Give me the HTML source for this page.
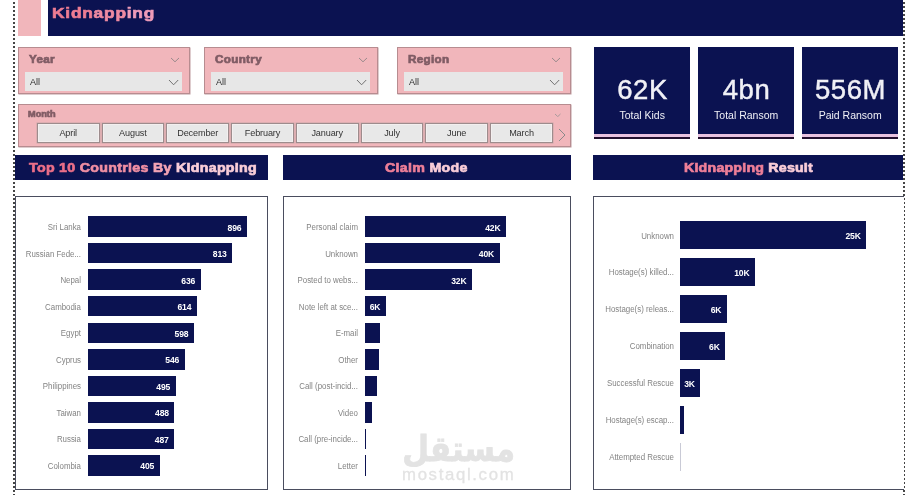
<!DOCTYPE html><html lang="en"><head><meta charset="utf-8"><title>Kidnapping</title><style>
*{margin:0;padding:0;box-sizing:border-box}
html,body{width:915px;height:495px;overflow:hidden;background:#fff}
body{position:relative;font-family:"Liberation Sans",sans-serif;}
.abs{position:absolute}
.navy{background:#0b1251}
.dot{position:absolute;top:0;width:2px;height:495px;background:repeating-linear-gradient(to bottom,#fff 0 2px,#454545 2px 4px)}
.blk{font-weight:bold;-webkit-text-stroke:0.65px currentColor;white-space:nowrap;display:inline-block;transform:scaleX(1.12);transform-origin:0 50%}
.slicer{position:absolute;background:#f1b6bb;border:1px solid #b78c90;box-shadow:.5px .5px 0 0 #bd999d}
.slicer .h{position:absolute;left:9.7px;top:6.4px;font-size:10.4px;line-height:12px;color:#805c65;letter-spacing:.3px}
.slicer .inp{position:absolute;left:5.7px;top:24px;height:19px;background:#e7e7e7;}
.slicer .inp span{position:absolute;left:5.2px;top:5.3px;font-size:9px;line-height:11px;color:#2e2e2e}
.btn{position:absolute;top:18.5px;height:19.4px;width:62.8px;letter-spacing:-.12px;background:#e8e8e8;border:1px solid #9d8c8d;box-shadow:inset 0 0 0 1px #f4efef,0 0 0 .5px #c9a5a8;font-size:9.1px;line-height:18.2px;text-align:center;color:#333}
.card{position:absolute;top:47px;height:87px;background:#0b1251;color:#f0f0f6;text-align:center}
.card .v{position:absolute;left:0;right:0;top:26.6px;font-size:27.5px;line-height:32px;letter-spacing:.6px;text-indent:.6px;-webkit-text-stroke:.45px #f0f0f6}
.card .l{position:absolute;left:0;right:0;top:62.2px;font-size:10.5px;line-height:12px}
.card .p{position:absolute;left:0;right:0;top:87px;height:3px;background:#e9c3e0}
.card .d{position:absolute;left:0;right:0;top:90px;height:1.5px;background:#23102e}
.hd{position:absolute;top:155.4px;height:24.4px;background:#0b1251;}
.hd div{position:absolute;top:5.8px;font-size:12.7px;line-height:15px;letter-spacing:.26px}
.box{position:absolute;top:196.3px;height:293.4px;border:1px solid #4a4d5e;background:#fff}
.bar{position:absolute;background:#0b1251}
.cl{position:absolute;font-size:8.3px;line-height:11px;color:#838383;text-align:right;white-space:nowrap;transform:scaleX(.95);transform-origin:100% 50%}
.dv{position:absolute;font-size:8.6px;line-height:11px;color:#fff;text-align:right;white-space:nowrap;font-weight:bold;letter-spacing:-.15px}
</style></head><body><div class="abs" style="left:0;top:0;width:915px;height:495px;will-change:transform">
<div class="dot" style="left:13px"></div><div class="dot" style="left:903px"></div>
<div class="abs" style="left:18px;top:0;width:23.3px;height:35.7px;background:#f1b6bb"></div>
<div class="abs navy" style="left:48px;top:0;width:855px;height:36.3px"></div>
<div class="abs blk" style="left:52.2px;top:3.4px;font-size:15.5px;line-height:20px;letter-spacing:.68px;color:#ee7d93">Kidn<span style="color:#ee8aa2">app</span><span style="color:#ee9bb9">ing</span></div>
<div class="slicer" style="left:18px;top:47px;width:171.6px;height:46.5px"><div class="h blk">Year</div>
<svg class="abs" style="left:151.2px;top:9.4px" width="10" height="5.8" viewBox="-1 -1 10 5.8"><polyline points="0,0 4.0,3.8 8,0" fill="none" stroke="#9a8a8c" stroke-width="1"/></svg>
<div class="inp" style="width:157.2px"><span>All</span></div>
<svg class="abs" style="left:148.6px;top:30.6px" width="11.2" height="6.8" viewBox="-1 -1 11.2 6.8"><polyline points="0,0 4.6,4.8 9.2,0" fill="none" stroke="#707070" stroke-width="1"/></svg>
</div>
<div class="slicer" style="left:204px;top:47px;width:173.5px;height:46.5px"><div class="h blk">Country</div>
<svg class="abs" style="left:153.1px;top:9.4px" width="10" height="5.8" viewBox="-1 -1 10 5.8"><polyline points="0,0 4.0,3.8 8,0" fill="none" stroke="#9a8a8c" stroke-width="1"/></svg>
<div class="inp" style="width:159.1px"><span>All</span></div>
<svg class="abs" style="left:150.5px;top:30.6px" width="11.2" height="6.8" viewBox="-1 -1 11.2 6.8"><polyline points="0,0 4.6,4.8 9.2,0" fill="none" stroke="#707070" stroke-width="1"/></svg>
</div>
<div class="slicer" style="left:397px;top:47px;width:173.5px;height:46.5px"><div class="h blk">Region</div>
<svg class="abs" style="left:153.1px;top:9.4px" width="10" height="5.8" viewBox="-1 -1 10 5.8"><polyline points="0,0 4.0,3.8 8,0" fill="none" stroke="#9a8a8c" stroke-width="1"/></svg>
<div class="inp" style="width:159.1px"><span>All</span></div>
<svg class="abs" style="left:150.5px;top:30.6px" width="11.2" height="6.8" viewBox="-1 -1 11.2 6.8"><polyline points="0,0 4.6,4.8 9.2,0" fill="none" stroke="#707070" stroke-width="1"/></svg>
</div>
<div class="slicer" style="left:18px;top:103.8px;width:552.6px;height:43px">
<div class="h blk" style="left:9.1px;top:4.6px;font-size:8.2px;letter-spacing:0px">Month</div>
<svg class="abs" style="left:535.4px;top:8px" width="7.5" height="4.6" viewBox="-1 -1 7.5 4.6"><polyline points="0,0 2.75,2.6 5.5,0" fill="none" stroke="#a89a9c" stroke-width="1"/></svg>
<div class="btn" style="left:17.8px">April</div>
<div class="btn" style="left:82.5px">August</div>
<div class="btn" style="left:147.3px">December</div>
<div class="btn" style="left:212.1px">February</div>
<div class="btn" style="left:276.8px">January</div>
<div class="btn" style="left:341.6px">July</div>
<div class="btn" style="left:406.3px">June</div>
<div class="btn" style="left:471.1px">March</div>
<svg class="abs" style="left:539px;top:23px" width="9" height="14" viewBox="0 0 9 14"><polyline points="1,1 7,7 1,13" fill="none" stroke="#8a8a8a" stroke-width="1"/></svg>
</div>
<div class="card" style="left:594px;width:96.4px"><div class="v">62K</div><div class="l">Total Kids</div><div class="p"></div><div class="d"></div></div>
<div class="card" style="left:698px;width:96.4px"><div class="v">4bn</div><div class="l">Total Ransom</div><div class="p"></div><div class="d"></div></div>
<div class="card" style="left:802px;width:96.4px"><div class="v">556M</div><div class="l">Paid Ransom</div><div class="p"></div><div class="d"></div></div>
<div class="hd" style="left:15px;width:252.5px"><div class="blk" style="left:13.5px;color:#ec6f88">Top 10 <span style="color:#f08fa3">Countries</span> <span style="color:#f3a3b4">By</span> <span style="color:#f9cdd8">Kidnapping</span></div></div>
<div class="hd" style="left:283px;width:287.8px"><div class="blk" style="left:102px;color:#ee7f98">Claim <span style="color:#f9cdd8">Mode</span></div></div>
<div class="hd" style="left:593px;width:310px"><div class="blk" style="left:91px;letter-spacing:.18px;color:#ee7f98">Kidnapping <span style="color:#f9cdd8">Result</span></div></div>
<div class="box" style="left:15px;width:253px"></div>
<div class="bar" style="left:87.7px;top:216.3px;width:159.2px;height:20.5px"></div>
<div class="cl" style="left:-8.799999999999997px;width:90px;top:222.1px">Sri Lanka</div>
<div class="dv" style="left:201.4px;width:40px;top:222.6px">896</div>
<div class="bar" style="left:87.7px;top:242.8px;width:144.5px;height:20.5px"></div>
<div class="cl" style="left:-8.799999999999997px;width:90px;top:248.6px">Russian Fede...</div>
<div class="dv" style="left:186.7px;width:40px;top:249.1px">813</div>
<div class="bar" style="left:87.7px;top:269.4px;width:113.0px;height:20.5px"></div>
<div class="cl" style="left:-8.799999999999997px;width:90px;top:275.1px">Nepal</div>
<div class="dv" style="left:155.2px;width:40px;top:275.6px">636</div>
<div class="bar" style="left:87.7px;top:295.9px;width:109.1px;height:20.5px"></div>
<div class="cl" style="left:-8.799999999999997px;width:90px;top:301.7px">Cambodia</div>
<div class="dv" style="left:151.3px;width:40px;top:302.2px">614</div>
<div class="bar" style="left:87.7px;top:322.5px;width:106.3px;height:20.5px"></div>
<div class="cl" style="left:-8.799999999999997px;width:90px;top:328.2px">Egypt</div>
<div class="dv" style="left:148.5px;width:40px;top:328.7px">598</div>
<div class="bar" style="left:87.7px;top:349.0px;width:97.0px;height:20.5px"></div>
<div class="cl" style="left:-8.799999999999997px;width:90px;top:354.8px">Cyprus</div>
<div class="dv" style="left:139.2px;width:40px;top:355.2px">546</div>
<div class="bar" style="left:87.7px;top:375.5px;width:88.0px;height:20.5px"></div>
<div class="cl" style="left:-8.799999999999997px;width:90px;top:381.3px">Philippines</div>
<div class="dv" style="left:130.2px;width:40px;top:381.8px">495</div>
<div class="bar" style="left:87.7px;top:402.1px;width:86.7px;height:20.5px"></div>
<div class="cl" style="left:-8.799999999999997px;width:90px;top:407.8px">Taiwan</div>
<div class="dv" style="left:128.9px;width:40px;top:408.3px">488</div>
<div class="bar" style="left:87.7px;top:428.6px;width:86.5px;height:20.5px"></div>
<div class="cl" style="left:-8.799999999999997px;width:90px;top:434.4px">Russia</div>
<div class="dv" style="left:128.7px;width:40px;top:434.9px">487</div>
<div class="bar" style="left:87.7px;top:455.2px;width:72.0px;height:20.5px"></div>
<div class="cl" style="left:-8.799999999999997px;width:90px;top:460.9px">Colombia</div>
<div class="dv" style="left:114.2px;width:40px;top:461.4px">405</div>
<div class="box" style="left:283px;width:287.8px"></div>
<div class="bar" style="left:364.8px;top:216.3px;width:141.2px;height:20.5px"></div>
<div class="cl" style="left:268.2px;width:90px;top:222.1px">Personal claim</div>
<div class="dv" style="left:460.5px;width:40px;top:222.6px">42K</div>
<div class="bar" style="left:364.8px;top:242.8px;width:134.8px;height:20.5px"></div>
<div class="cl" style="left:268.2px;width:90px;top:248.6px">Unknown</div>
<div class="dv" style="left:454.1px;width:40px;top:249.1px">40K</div>
<div class="bar" style="left:364.8px;top:269.4px;width:107.2px;height:20.5px"></div>
<div class="cl" style="left:268.2px;width:90px;top:275.1px">Posted to webs...</div>
<div class="dv" style="left:426.5px;width:40px;top:275.6px">32K</div>
<div class="bar" style="left:364.8px;top:295.9px;width:21.1px;height:20.5px"></div>
<div class="cl" style="left:268.2px;width:90px;top:301.7px">Note left at sce...</div>
<div class="dv" style="left:340.4px;width:40px;top:302.2px">6K</div>
<div class="bar" style="left:364.8px;top:322.5px;width:15px;height:20.5px"></div>
<div class="cl" style="left:268.2px;width:90px;top:328.2px">E-mail</div>
<div class="bar" style="left:364.8px;top:349.0px;width:14.3px;height:20.5px"></div>
<div class="cl" style="left:268.2px;width:90px;top:354.8px">Other</div>
<div class="bar" style="left:364.8px;top:375.5px;width:12.2px;height:20.5px"></div>
<div class="cl" style="left:268.2px;width:90px;top:381.3px">Call (post-incid...</div>
<div class="bar" style="left:364.8px;top:402.1px;width:7.6px;height:20.5px"></div>
<div class="cl" style="left:268.2px;width:90px;top:407.8px">Video</div>
<div class="bar" style="left:364.8px;top:428.6px;width:1.3px;height:20.5px"></div>
<div class="cl" style="left:268.2px;width:90px;top:434.4px">Call (pre-incide...</div>
<div class="bar" style="left:364.8px;top:455.2px;width:1.1px;height:20.5px"></div>
<div class="cl" style="left:268.2px;width:90px;top:460.9px">Letter</div>
<div class="box" style="left:593px;width:311px;border-right:none"></div>
<div class="bar" style="left:680.2px;top:220.8px;width:186.1px;height:28.3px"></div>
<div class="cl" style="left:583.8px;width:90px;top:230.5px">Unknown</div>
<div class="dv" style="left:820.8px;width:40px;top:231.0px">25K</div>
<div class="bar" style="left:680.2px;top:257.8px;width:74.8px;height:28.3px"></div>
<div class="cl" style="left:583.8px;width:90px;top:267.4px">Hostage(s) killed...</div>
<div class="dv" style="left:709.5px;width:40px;top:267.9px">10K</div>
<div class="bar" style="left:680.2px;top:294.7px;width:46.7px;height:28.3px"></div>
<div class="cl" style="left:583.8px;width:90px;top:304.4px">Hostage(s) releas...</div>
<div class="dv" style="left:681.4px;width:40px;top:304.9px">6K</div>
<div class="bar" style="left:680.2px;top:331.7px;width:45.1px;height:28.3px"></div>
<div class="cl" style="left:583.8px;width:90px;top:341.3px">Combination</div>
<div class="dv" style="left:679.8px;width:40px;top:341.8px">6K</div>
<div class="bar" style="left:680.2px;top:368.6px;width:20.2px;height:28.3px"></div>
<div class="cl" style="left:583.8px;width:90px;top:378.2px">Successful Rescue</div>
<div class="dv" style="left:654.9px;width:40px;top:378.8px">3K</div>
<div class="bar" style="left:680.2px;top:405.6px;width:4px;height:28.3px"></div>
<div class="cl" style="left:583.8px;width:90px;top:415.2px">Hostage(s) escap...</div>
<div class="bar" style="left:680.2px;top:442.5px;width:1px;height:28.3px;background:#c9cad6"></div>
<div class="cl" style="left:583.8px;width:90px;top:452.1px">Attempted Rescue</div>
<div class="abs" dir="rtl" lang="ar" style="left:394.5px;top:427px;width:120px;height:44px;font-family:'DejaVu Sans',sans-serif;font-weight:bold;font-size:35px;line-height:44px;color:#e3e3e3;-webkit-text-stroke:.8px #e3e3e3;text-align:right;white-space:nowrap;transform:scaleX(.88);transform-origin:100% 50%">مستقل</div>
<div class="abs" style="left:402px;top:464.3px;font-size:16.8px;line-height:22px;letter-spacing:1.65px;color:#e3e3e3;white-space:nowrap;-webkit-text-stroke:.3px #e3e3e3">mostaql.com</div>
</div></body></html>
